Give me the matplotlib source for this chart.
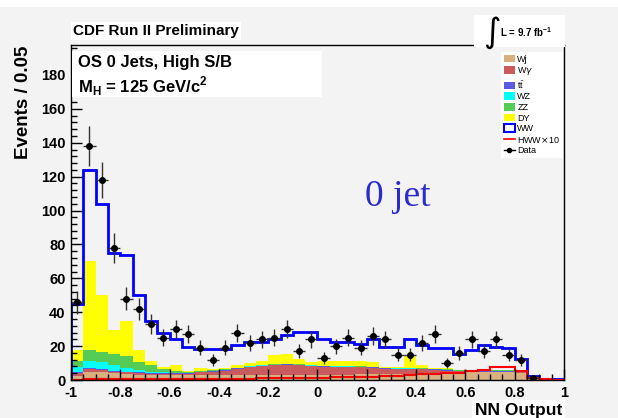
import numpy as np
import matplotlib
matplotlib.use('Agg')
import matplotlib.pyplot as plt
from matplotlib.patches import Patch, Rectangle
from matplotlib.lines import Line2D

# NN output binning (40 bins of 0.05)
edges = np.linspace(-1, 1, 41)
centers = 0.5 * (edges[1:] + edges[:-1])

# Background contributions per bin
wj = [2.5, 4.5, 4.5, 4.0, 3.5, 3.2, 3.0, 2.8, 2.8, 2.8,
      2.7, 2.7, 2.8, 2.9, 3.0, 3.0, 3.0, 3.0, 3.1, 3.1,
      3.2, 3.2, 3.2, 3.3, 3.3, 3.4, 3.5, 3.6, 3.8, 4.0,
      4.2, 4.4, 4.5, 4.6, 4.6, 4.6, 4.0, 0.8, 0.2, 0.1]
wg = [1.5, 2.0, 1.5, 1.0, 1.0, 0.8, 0.8, 0.8, 0.8, 1.0,
      1.9, 2.3, 2.8, 3.7, 4.6, 5.2, 5.6, 6.0, 5.5, 5.1,
      4.6, 4.4, 4.4, 4.1, 3.9, 3.2, 2.9, 2.8, 2.4, 2.0,
      1.4, 0.8, 0.4, 0.4, 0.4, 0.4, 0.5, 0.2, 0.05, 0.05]
tt = [0.5, 0.5, 0.5, 0.5, 0.5, 0.5, 0.4, 0.4, 0.4, 0.3,
      0.2, 0.2, 0.2, 0.2, 0.2, 0.2, 0.2, 0.2, 0.2, 0.2,
      0.2, 0.2, 0.2, 0.2, 0.2, 0.2, 0.2, 0.2, 0.2, 0.2,
      0.2, 0.2, 0.2, 0.2, 0.3, 0.3, 0.5, 0.3, 0.05, 0.05]
wz = [3.0, 4.5, 4.0, 3.5, 2.0, 1.5, 0.8, 0.5, 0.3, 0.2,
      0.2, 0.2, 0.2, 0.2, 0.2, 0.2, 0.2, 0.2, 0.2, 0.2,
      0.2, 0.2, 0.2, 0.2, 0.2, 0.2, 0.2, 0.2, 0.2, 0.2,
      0.2, 0.2, 0.2, 0.2, 0.2, 0.2, 0.2, 0.1, 0.0, 0.0]
zz = [3.5, 6.0, 5.8, 6.5, 6.9, 4.5, 3.6, 2.1, 1.3, 0.5,
      0.3, 0.3, 0.3, 0.3, 0.3, 0.3, 0.3, 0.3, 0.3, 0.3,
      0.3, 0.3, 0.3, 0.3, 0.3, 0.3, 0.3, 0.3, 0.3, 0.3,
      0.2, 0.2, 0.2, 0.2, 0.2, 0.2, 0.2, 0.1, 0.0, 0.0]
dy = [6.8, 52.5, 33.7, 13.8, 20.7, 7.0, 2.9, 1.0, 3.0, 0.8,
      1.7, 0.8, 0.7, 1.3, 1.7, 2.6, 5.6, 5.8, 3.2, 2.0,
      3.0, 2.7, 2.7, 2.9, 2.6, 0.3, 0.5, 6.9, 1.7, 0.5,
      0.8, 0.2, 0.0, 0.0, 0.0, 0.0, 0.0, 0.0, 0.0, 0.0]
ww = [27.2, 54.0, 54.0, 45.7, 38.9, 32.5, 23.5, 19.9, 15.4, 13.9,
      11.5, 12.0, 11.5, 11.9, 12.5, 11.0, 9.1, 11.0, 16.0, 17.6,
      12.9, 11.5, 11.5, 10.5, 13.5, 11.6, 11.6, 10.0, 11.9, 11.4,
      11.6, 9.3, 12.4, 15.2, 13.5, 13.1, 7.1, 0.9, 0.1, 0.1]
hww10 = [0.2, 0.3, 0.3, 0.3, 0.3, 0.3, 0.3, 0.4, 0.4, 0.5,
         0.5, 0.6, 0.6, 0.7, 0.8, 0.9, 1.0, 1.1, 1.2, 1.3,
         1.4, 1.5, 1.6, 1.8, 2.0, 2.3, 2.6, 3.0, 3.3, 3.6,
         4.0, 4.4, 5.2, 5.8, 7.6, 7.6, 5.6, 1.2, 0.3, 0.2]
data = [46, 138, 118, 78, 48, 42, 33, 25, 30, 27,
        19, 12, 19, 28, 22, 24, 25, 30, 17, 24,
        13, 20, 25, 19, 26, 24, 15, 15, 22, 27,
        10, 16, 24, 17, 24, 15, 12, 1, 0, 0]

# Plot parameters
bg = '#f3f3f3'
W, H = 618, 418
stack = [(wj, '#d9b07e', 'Wj'),
         (wg, '#c95b5f', r'W$\gamma$'),
         (tt, '#5a5ae0', r'$\mathregular{t\bar{t}}$'),
         (wz, '#00ffff', 'WZ'),
         (zz, '#55cc55', 'ZZ'),
         (dy, '#ffff00', 'DY')]

def fx(x):
    return x / W

def fy(y):
    return 1 - y / H

plt.rcParams['font.family'] = ['Liberation Sans', 'DejaVu Sans']

fig = plt.figure(figsize=(6.18, 4.18), dpi=100, facecolor=bg)
fig.patches.append(Rectangle((0, fy(7)), 1, fy(0) - fy(7), transform=fig.transFigure,
                             facecolor='white', edgecolor='none'))
ax = fig.add_axes([fx(71), fy(380), fx(564) - fx(71), fy(45) - fy(380)])
ax.set_facecolor(bg)

# stacked backgrounds
base = np.zeros(40)
for vals, col, lab in stack:
    vals = np.array(vals)
    ax.stairs(base + vals, edges, baseline=base, fill=True, color=col, lw=0)
    base = base + vals
total = base + np.array(ww)
ax.stairs(total, edges, color='#0000ff', lw=2)
ax.stairs(hww10, edges, color='#ff0000', lw=1.5)

# data
d = np.array(data, dtype=float)
m = d > 0
ax.errorbar(centers[m], d[m], yerr=np.sqrt(d[m]), xerr=0.025, fmt='o',
            color='black', ecolor='#333333', ms=4, elinewidth=1, capsize=0)

ax.set_xlim(-1, 1)
ax.set_ylim(0, 197.7)
ax.set_xticks(np.arange(-1, 1.01, 0.2))
ax.set_xticklabels(['-1', '-0.8', '-0.6', '-0.4', '-0.2', '0',
                    '0.2', '0.4', '0.6', '0.8', '1'])
ax.set_xticks(np.arange(-1, 1.001, 0.05), minor=True)
ax.set_yticks(np.arange(0, 181, 20))
ax.set_yticks(np.arange(0, 197, 4), minor=True)
ax.tick_params(direction='in', which='both', top=False, right=False,
               labelsize=10.5)
ax.tick_params(which='major', length=8, width=1)
ax.tick_params(which='minor', length=4, width=1)
ax.tick_params(axis='y', pad=4)
ax.tick_params(axis='x', pad=4)
for lab in ax.get_xticklabels() + ax.get_yticklabels():
    lab.set_fontweight('bold')
for sp in ax.spines.values():
    sp.set_linewidth(1)

fig.text(fx(24), fy(46), 'Events / 0.05', rotation=90, ha='center', va='top',
         fontsize=13.5, fontweight='bold')
fig.text(fx(562), fy(410), 'NN Output', ha='right', va='center',
         fontsize=12.5, fontweight='bold',
         bbox=dict(facecolor='white', edgecolor='none', pad=2))

# header texts
fig.text(fx(73), fy(31), 'CDF Run II Preliminary', ha='left', va='center',
         fontsize=11, fontweight='bold',
         bbox=dict(facecolor='white', edgecolor='none', pad=1.5))
fig.patches.append(Rectangle((fx(474), fy(47)), fx(565) - fx(474), fy(15) - fy(47),
                             transform=fig.transFigure, facecolor='white',
                             edgecolor='none'))
fig.text(fx(492), fy(33), r'$\int$', ha='center', va='center', fontsize=17)
fig.text(fx(500), fy(32), r'L = 9.7 fb$^{\mathregular{-1}}$', ha='left', va='center',
         fontsize=7, fontweight='bold')

# info panes
ax.add_patch(Rectangle((fx(72), fy(97)), fx(322) - fx(72), fy(51) - fy(97),
                       transform=fig.transFigure, facecolor='white',
                       edgecolor='none', zorder=5))
fig.text(fx(78), fy(62), 'OS 0 Jets, High S/B', ha='left', va='center',
         fontsize=12, fontweight='bold')
fig.text(fx(78), fy(86), r'M$_{\mathregular{H}}$ = 125 GeV/c$^{\mathregular{2}}$',
         ha='left', va='center', fontsize=12, fontweight='bold')

fig.text(fx(398), fy(197), '0 jet', ha='center', va='center', fontsize=27,
         color='#2b2bcc', family='Liberation Serif')

# legend
handles = [Patch(facecolor=c, edgecolor='none') for _, c, _ in stack]
labels = [l for _, _, l in stack]
handles += [Patch(facecolor='white', edgecolor='#0000ff', lw=1.5),
            Line2D([], [], color='#ff0000', lw=1.2),
            Line2D([], [], color='black', marker='o', ms=3, lw=1)]
labels += ['WW', r'HWW$\times$10', 'Data']
leg = ax.legend(handles, labels, loc='upper left',
                bbox_to_anchor=(fx(501), fy(52)), bbox_transform=fig.transFigure,
                fontsize=6.5, frameon=True, fancybox=False, edgecolor='none',
                facecolor='white', framealpha=1, labelspacing=0.18,
                handlelength=1.2, handleheight=0.9, handletextpad=0.3,
                borderpad=0.3, borderaxespad=0)

fig.savefig('out.png', dpi=100, facecolor=bg)
